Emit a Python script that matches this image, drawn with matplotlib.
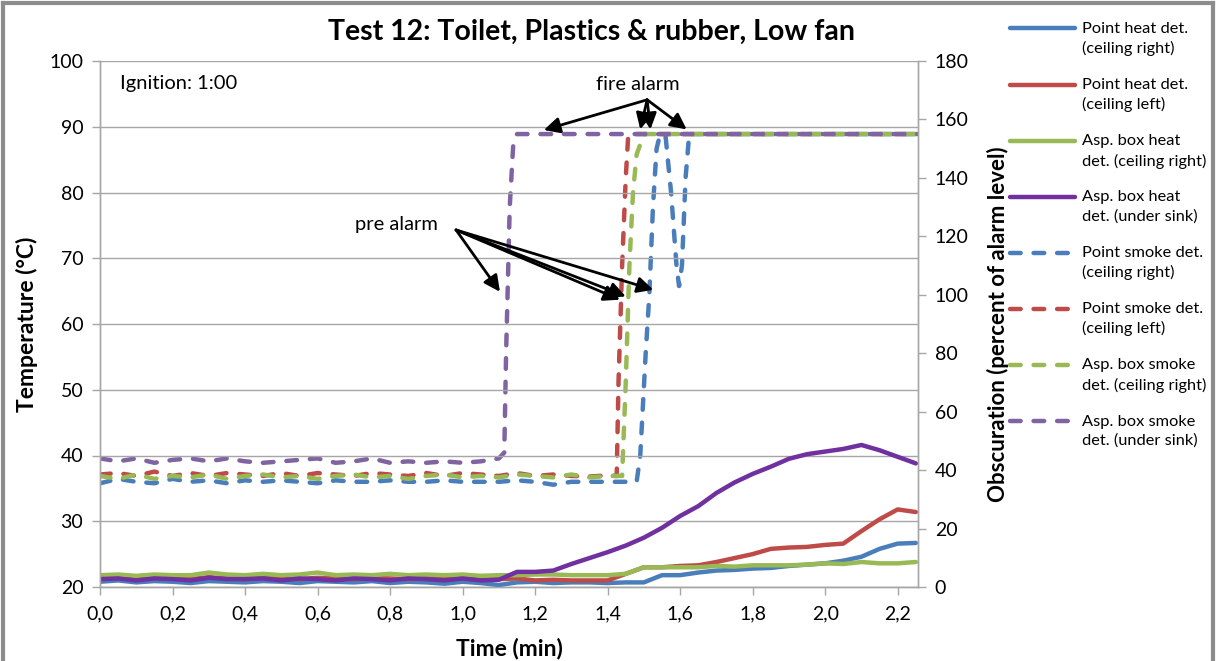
import numpy as np
import matplotlib
matplotlib.use("Agg")
import matplotlib.pyplot as plt
from matplotlib.lines import Line2D
from matplotlib.legend_handler import HandlerLine2D
from matplotlib.ticker import FuncFormatter, MultipleLocator

plt.rcParams['font.family'] = ['Lato', 'DejaVu Sans']

# ---------------- data ----------------
title = "Test 12: Toilet, Plastics & rubber, Low fan"

# heat detectors (temperature, °C), common time grid (min)
heat_time = [0.00, 0.05, 0.10, 0.15, 0.20, 0.25, 0.30, 0.35, 0.40, 0.45,
             0.50, 0.55, 0.60, 0.65, 0.70, 0.75, 0.80, 0.85, 0.90, 0.95,
             1.00, 1.05, 1.10, 1.15, 1.20, 1.25, 1.30, 1.35, 1.40, 1.45,
             1.50, 1.55, 1.60, 1.65, 1.70, 1.75, 1.80, 1.85, 1.90, 1.95,
             2.00, 2.05, 2.10, 2.15, 2.20, 2.25]
heat_pt_right = [20.8, 21.0, 20.7, 20.9, 20.8, 20.6, 20.9, 20.8, 20.7, 20.9,
                 20.8, 20.6, 20.9, 20.8, 20.7, 20.9, 20.6, 20.8, 20.7, 20.5,
                 20.8, 20.6, 20.3, 20.7, 20.8, 20.6, 20.7, 20.7, 20.6, 20.7,
                 20.7, 21.8, 21.8, 22.2, 22.5, 22.6, 22.8, 22.9, 23.2, 23.4,
                 23.6, 24.0, 24.6, 25.8, 26.6, 26.7]
heat_pt_left = [21.3, 21.5, 21.2, 21.4, 21.3, 21.2, 21.5, 21.3, 21.2, 21.4,
                21.3, 21.2, 21.4, 21.3, 21.2, 21.4, 21.3, 21.2, 21.4, 21.2,
                21.3, 21.1, 21.2, 21.3, 21.0, 21.1, 21.0, 21.0, 21.0, 22.0,
                23.0, 23.0, 23.2, 23.3, 23.8, 24.4, 25.0, 25.8, 26.0, 26.1,
                26.4, 26.6, 28.5, 30.3, 31.8, 31.4]
heat_asp_ceiling = [21.8, 21.9, 21.7, 21.9, 21.8, 21.8, 22.2, 21.9, 21.8, 22.0,
                    21.8, 21.9, 22.2, 21.8, 21.9, 21.8, 22.0, 21.8, 21.9, 21.8,
                    21.9, 21.7, 21.8, 21.8, 21.9, 21.9, 21.8, 21.8, 21.8, 22.0,
                    23.0, 23.0, 23.0, 23.0, 23.2, 23.1, 23.3, 23.3, 23.3, 23.4,
                    23.6, 23.5, 23.8, 23.6, 23.6, 23.8]
heat_asp_sink = [21.2, 21.3, 21.0, 21.3, 21.2, 21.0, 21.4, 21.2, 21.2, 21.3,
                 21.0, 21.3, 21.2, 21.0, 21.3, 21.2, 21.0, 21.3, 21.2, 21.0,
                 21.3, 21.0, 21.1, 22.3, 22.3, 22.5, 23.5, 24.4, 25.3, 26.3,
                 27.5, 29.0, 30.8, 32.3, 34.3, 35.9, 37.2, 38.3, 39.5, 40.2,
                 40.6, 41.0, 41.6, 40.8, 39.8, 38.8]

# smoke detectors (obscuration, % of alarm level)
smoke_pt_right_time = [0.00, 0.05, 0.10, 0.15, 0.20, 0.25, 0.30, 0.35, 0.40, 0.45,
                       0.50, 0.55, 0.60, 0.65, 0.70, 0.75, 0.80, 0.85, 0.90, 0.95,
                       1.00, 1.05, 1.10, 1.15, 1.20, 1.25, 1.30, 1.35, 1.40, 1.45,
                       1.48, 1.49, 1.505, 1.515, 1.525, 1.535, 1.545, 1.56, 1.575,
                       1.59, 1.597, 1.605, 1.615, 1.625, 2.256]
smoke_pt_right = [35.5, 37.0, 36.0, 35.5, 37.0, 36.0, 36.5, 35.5, 36.5, 36.0,
                  36.5, 36.0, 35.5, 36.5, 36.0, 36.0, 36.5, 36.0, 36.0, 36.5,
                  36.0, 36.0, 36.0, 36.5, 36.0, 35.0, 36.0, 36.0, 36.0, 36.0,
                  36.0, 45.0, 80.0, 100.0, 130.0, 150.0, 155.0, 154.0, 135.0,
                  110.0, 103.0, 110.0, 140.0, 155.0, 155.0]
smoke_pt_left_time = [0.00, 0.05, 0.10, 0.15, 0.20, 0.25, 0.30, 0.35, 0.40, 0.45,
                      0.50, 0.55, 0.60, 0.65, 0.70, 0.75, 0.80, 0.85, 0.90, 0.95,
                      1.00, 1.05, 1.10, 1.15, 1.20, 1.25, 1.30, 1.35, 1.40,
                      1.425, 1.43, 1.44, 1.45, 1.457, 2.256]
smoke_pt_left = [38.5, 39.0, 38.0, 39.5, 38.0, 39.0, 38.0, 39.0, 38.5, 38.0,
                 39.0, 38.0, 39.0, 38.5, 38.0, 39.0, 38.5, 38.0, 39.0, 38.0,
                 39.0, 38.5, 38.0, 39.0, 38.0, 38.5, 38.0, 37.8, 38.2,
                 38.0, 70.0, 110.0, 140.0, 155.0, 155.0]
smoke_asp_ceiling_time = [0.00, 0.05, 0.10, 0.15, 0.20, 0.25, 0.30, 0.35, 0.40, 0.45,
                          0.50, 0.55, 0.60, 0.65, 0.70, 0.75, 0.80, 0.85, 0.90, 0.95,
                          1.00, 1.05, 1.10, 1.15, 1.20, 1.25, 1.30, 1.35, 1.40,
                          1.44, 1.45, 1.46, 1.47, 1.48, 1.50, 2.256]
smoke_asp_ceiling = [38.0, 37.0, 38.5, 37.0, 38.0, 37.5, 38.5, 37.0, 38.0, 38.5,
                     37.5, 38.0, 37.0, 38.0, 38.5, 37.5, 38.0, 37.0, 38.0, 38.5,
                     37.5, 38.0, 37.5, 38.5, 38.0, 37.5, 38.5, 37.5, 38.0,
                     38.0, 70.0, 110.0, 135.0, 148.0, 155.0, 155.0]
smoke_asp_sink_time = [0.00, 0.05, 0.10, 0.15, 0.20, 0.25, 0.30, 0.35, 0.40, 0.45,
                       0.50, 0.55, 0.60, 0.65, 0.70, 0.75, 0.80, 0.85, 0.90, 0.95,
                       1.00, 1.05, 1.10, 1.115, 1.12, 1.13, 1.14, 1.15, 2.256]
smoke_asp_sink = [44.0, 43.0, 44.0, 42.5, 43.5, 44.0, 43.0, 44.0, 43.0, 42.5,
                  43.0, 43.5, 44.0, 42.5, 43.0, 44.0, 42.5, 43.0, 42.5, 43.0,
                  42.5, 43.0, 44.0, 46.0, 80.0, 130.0, 152.0, 155.0, 155.0]

labels = ["Point heat det.\n(ceiling right)",
          "Point heat det.\n(ceiling left)",
          "Asp. box heat\ndet. (ceiling right)",
          "Asp. box heat\ndet. (under sink)",
          "Point smoke det.\n(ceiling right)",
          "Point smoke det.\n(ceiling left)",
          "Asp. box smoke\ndet. (ceiling right)",
          "Asp. box smoke\ndet. (under sink)"]

x_ticks = [0.0, 0.2, 0.4, 0.6, 0.8, 1.0, 1.2, 1.4, 1.6, 1.8, 2.0, 2.2]

# ---------------- styling ----------------
C_BLUE = "#4A7EBB"
C_RED = "#BE4B48"
C_GREEN = "#98B954"
C_PURPLE = "#7030A0"
C_PURPLE_D = "#8064A2"
LW = 3.2
DASH = (2.4, 2.9)
GRID = "#A6A6A6"


class UpHandler(HandlerLine2D):
    """Align the legend line with the first text line of a two-line label."""
    def create_artists(self, legend, orig_handle, xdescent, ydescent, width,
                       height, fontsize, trans):
        arts = super().create_artists(legend, orig_handle, xdescent, ydescent,
                                      width, height, fontsize, trans)
        for a in arts:
            a.set_ydata([v + 0.62 * fontsize for v in a.get_ydata()])
        return arts


fig = plt.figure(figsize=(12.16, 6.61), dpi=100)
ax = fig.add_axes([100/1216, 1-587/661, 818/1216, 526/661])
ax2 = ax.twinx()

ax.set_zorder(ax2.get_zorder() + 1)
ax.patch.set_visible(False)

heat_series = [(heat_pt_right, C_BLUE), (heat_pt_left, C_RED),
               (heat_asp_ceiling, C_GREEN), (heat_asp_sink, C_PURPLE)]
handles = []
for vals, col in heat_series:
    ax.plot(heat_time, vals, color=col, lw=LW, solid_capstyle='round',
            solid_joinstyle='round')
    handles.append(Line2D([], [], color=col, lw=LW, solid_capstyle='round'))

smoke_series = [(smoke_pt_right_time, smoke_pt_right, C_BLUE),
                (smoke_pt_left_time, smoke_pt_left, C_RED),
                (smoke_asp_ceiling_time, smoke_asp_ceiling, C_GREEN),
                (smoke_asp_sink_time, smoke_asp_sink, C_PURPLE_D)]
for tt, vals, col in smoke_series:
    ax2.plot(tt, vals, color=col, lw=LW, dashes=DASH, dash_capstyle='round',
             dash_joinstyle='round')
    handles.append(Line2D([], [], color=col, lw=LW, dashes=DASH,
                          dash_capstyle='round'))

# axes
ax.set_xlim(0, 2.256)
ax.set_ylim(20, 100)
ax2.set_ylim(0, 180)
ax.set_xticks(x_ticks)
ax.xaxis.set_major_formatter(FuncFormatter(lambda v, p: f"{v:.1f}".replace(".", ",")))
ax.yaxis.set_major_locator(MultipleLocator(10))
ax2.yaxis.set_major_locator(MultipleLocator(20))
ax.grid(axis='y', color=GRID, lw=1.0)
ax.set_axisbelow(True)

for a in (ax, ax2):
    for s in a.spines.values():
        s.set_color(GRID)
        s.set_linewidth(1.0)
    a.spines['top'].set_visible(False)
    a.tick_params(colors='black', labelsize=14, length=6, width=1.0,
                  color=GRID, direction='out')
ax.tick_params(axis='x', pad=7)
ax.tick_params(axis='y', pad=6)
ax2.tick_params(axis='y', pad=6)

ax.set_xlabel("Time (min)", fontsize=16.5, fontweight='bold', labelpad=11)
ax.set_ylabel("Temperature (°C)", fontsize=16.5, fontweight='bold', labelpad=8)
ax2.set_ylabel("Obscuration (percent of alarm level)", fontsize=16,
               fontweight='bold', labelpad=13)

fig.text(592/1216, 1-32/661, title, ha='center', va='center', fontsize=20.5,
         fontweight='bold')

ax.text(0.055, 96.65, "Ignition: 1:00", fontsize=14.5, ha='left', va='center')

# annotations
arw = dict(arrowstyle='-|>', lw=2.0, color='black', mutation_scale=24,
           shrinkA=0, shrinkB=0)
ax.text(1.484, 96.5, "fire alarm", fontsize=14.5, ha='center', va='center')
fire_start = (1.509, 94.1)
for tgt in [(1.224, 89.5), (1.49, 89.6), (1.518, 89.6), (1.618, 89.6)]:
    ax.annotate("", xy=tgt, xytext=fire_start, arrowprops=arw)

ax.text(0.817, 75.1, "pre alarm", fontsize=14.5, ha='center', va='center')
pre_start = (0.982, 74.3)
for tgt in [(1.103, 64.9), (1.434, 63.7), (1.45, 64.2), (1.526, 65.2)]:
    ax.annotate("", xy=tgt, xytext=pre_start, arrowprops=arw)

# legend
leg = fig.legend(handles, labels, loc='upper left',
                 bbox_to_anchor=(1003/1216, 1-15/661), frameon=False,
                 fontsize=11.8, handlelength=4.0, handletextpad=0.4,
                 labelspacing=1.33, borderaxespad=0,
                 handler_map={Line2D: UpHandler()})
for t in leg.get_texts():
    t.set_linespacing(1.45)

# figure border
for xs, ys in [((3/1216, 3/1216), (0, 1-3/661)),
               ((3/1216, 1213/1216), (1-3/661, 1-3/661)),
               ((1213/1216, 1213/1216), (0, 1-3/661))]:
    fig.add_artist(Line2D(xs, ys, color='#8C8C8C', lw=3,
                          transform=fig.transFigure))

fig.savefig("out.png", dpi=100)
